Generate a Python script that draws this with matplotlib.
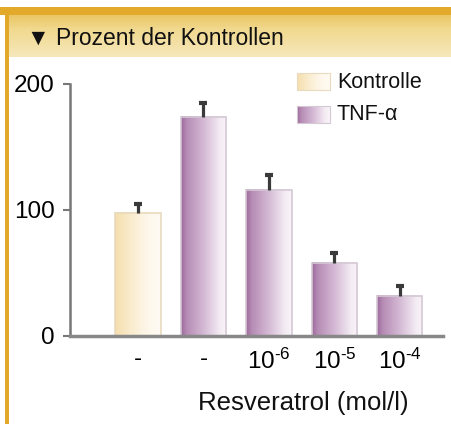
import numpy as np
import matplotlib
matplotlib.use('Agg')
import matplotlib.pyplot as plt
from matplotlib.colors import LinearSegmentedColormap

plt.rcParams['font.family'] = ['Liberation Sans', 'DejaVu Sans']
plt.rcParams['mathtext.fontset'] = 'custom'
plt.rcParams['mathtext.rm'] = 'Liberation Sans'

# data
tick_labels = ['-', '-', r'$\mathregular{10^{\text{-}6}}$', r'$\mathregular{10^{\text{-}5}}$',
               r'$\mathregular{10^{\text{-}4}}$']
groups = ['Kontrolle', 'TNF-α', 'TNF-α', 'TNF-α', 'TNF-α']
values = [98, 174, 116, 58, 32]
errors = [7, 11, 12, 8, 8]

# gradient colours (left -> right)
kontr_cmap = LinearSegmentedColormap.from_list('k', ['#f5dfae', '#f9ebcc', '#fdf6e8', '#fffbf4'])
tnf_cmap = LinearSegmentedColormap.from_list('t', [(0, '#9e6a9c'), (0.12, '#b68cb5'), (0.5, '#d5bad5'),
                                                    (0.85, '#f3ebf3'), (1, '#f9f5f9')])
cmaps = {'Kontrolle': kontr_cmap, 'TNF-α': tnf_cmap}
edges = {'Kontrolle': '#e8dabc', 'TNF-α': '#d4c8d4'}
grad = np.linspace(0, 1, 64).reshape(1, -1)

fig = plt.figure(figsize=(4.52, 4.24), dpi=100)

# frame + header in pixel coordinates
bg = fig.add_axes([0, 0, 1, 1])
bg.set_xlim(0, 452)
bg.set_ylim(424, 0)
bg.axis('off')
hdr_cmap = LinearSegmentedColormap.from_list('h', ['#ebc665', '#f1d98f', '#f3e0a4', '#f6e8bc'])
bg.imshow(np.linspace(0, 1, 64).reshape(-1, 1), cmap=hdr_cmap, extent=(9, 452, 57, 15), aspect='auto')
bg.add_patch(plt.Rectangle((0, 7), 452, 8, color='#e2a92b', lw=0))
bg.add_patch(plt.Rectangle((5, 7), 4, 417, color='#e2a92b', lw=0))
bg.text(27, 38, '▼ Prozent der Kontrollen', fontsize=16.5, va='center', ha='left', color='#111111')

# legend drawn by hand with gradient swatches
for name, y0 in [('Kontrolle', 73), ('TNF-α', 106)]:
    bg.imshow(grad, cmap=cmaps[name], extent=(297, 330, y0 + 17, y0), aspect='auto')
    bg.add_patch(plt.Rectangle((297, y0), 33, 17, fill=False, ec=edges[name], lw=0.8))
    bg.text(337, y0 + 9, name, fontsize=15.5, va='center', ha='left', color='#111111')
bg.set_xlim(0, 452)
bg.set_ylim(424, 0)

# main chart
ax = fig.add_axes([70 / 452, (424 - 336) / 424, (443 - 70) / 452, (336 - 84) / 424])
ax.patch.set_alpha(0)
x = np.arange(len(values))
w = 0.69
bars = ax.bar(x, values, width=w, fill=False, zorder=3)
for b, g in zip(bars, groups):
    b.set_edgecolor(edges[g])
    b.set_linewidth(1.2)
    ax.imshow(grad, cmap=cmaps[g], aspect='auto', zorder=2,
              extent=(b.get_x(), b.get_x() + b.get_width(), 0, b.get_height()))
_, caps, _ = ax.errorbar(x, values, yerr=[np.zeros(len(errors)), errors], fmt='none', ecolor='#3a3a3a',
                         elinewidth=2.3, capsize=3.2, capthick=3, zorder=4)
caps[0].set_visible(False)  # only the upper cap

ax.set_xlim(-1.04, 4.66)
ax.set_ylim(0, 200)
ax.set_yticks([0, 100, 200])
ax.set_xticks(x)
ax.set_xticklabels(tick_labels)
ax.tick_params(axis='y', length=5, width=1.5, color='#777777', labelsize=17.5, pad=6)
ax.tick_params(axis='x', length=0, labelsize=17.5, pad=9)
for s in ['top', 'right']:
    ax.spines[s].set_visible(False)
ax.spines['left'].set_color('#777777')
ax.spines['left'].set_linewidth(1.8)
ax.spines['bottom'].set_color('#888888')
ax.spines['bottom'].set_linewidth(2.5)
ax.spines['bottom'].set_zorder(5)

fig.text(303 / 452, 1 - 403 / 424, 'Resveratrol (mol/l)', fontsize=18.5, ha='center', va='center', color='#111111')

fig.savefig('out.png', dpi=100)
